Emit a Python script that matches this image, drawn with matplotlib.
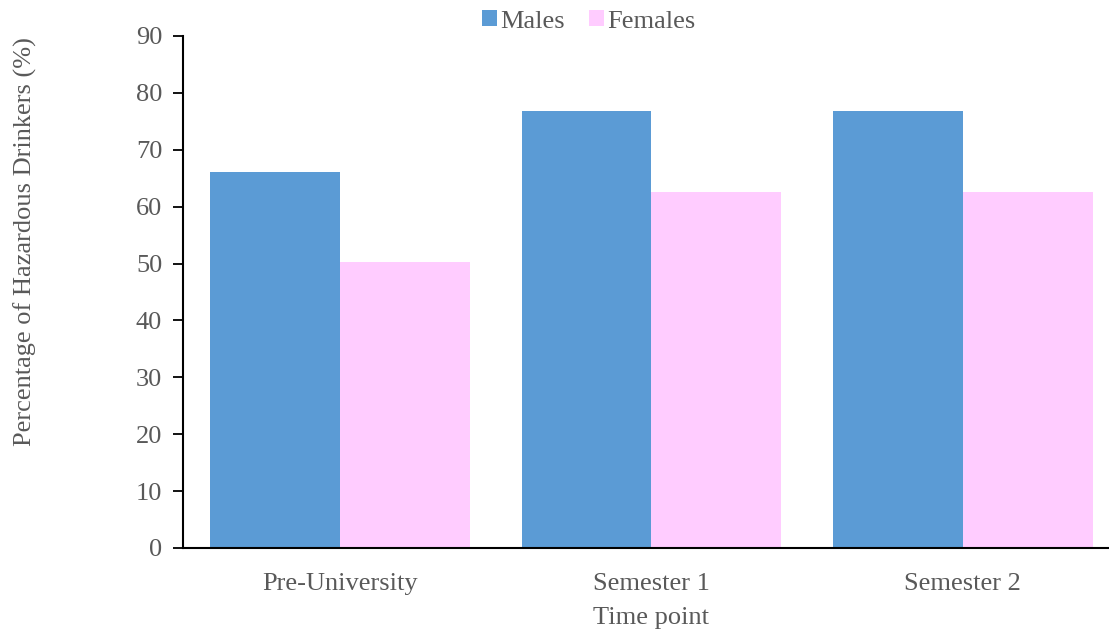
import matplotlib
matplotlib.use("Agg")
import matplotlib.pyplot as plt
import numpy as np

categories = ["Pre-University", "Semester 1", "Semester 2"]
males = [66.1, 76.8, 76.8]
females = [50.3, 62.5, 62.5]
series_names = ["Males", "Females"]
yticks = [0, 10, 20, 30, 40, 50, 60, 70, 80, 90]

plt.rcParams["font.family"] = ["Liberation Serif", "DejaVu Serif"]
text_color = "#595959"
male_color = "#5B9BD5"
female_color = "#FFCCFF"
fs = 19

W, H = 1109, 633
fig = plt.figure(figsize=(W / 100, H / 100), dpi=100)
ax = fig.add_axes([183 / W, (H - 548) / H, (1108 - 183) / W, (548 - 36) / H])

x = np.arange(len(categories))
bw = 0.417
ax.bar(x - bw / 2, males, width=bw, color=male_color, label=series_names[0])
ax.bar(x + bw / 2, females, width=bw, color=female_color, label=series_names[1])

ax.set_xlim(-0.504, 2.466)
ax.set_ylim(0, 90)
ax.set_yticks(yticks)
ax.set_yticklabels([str(t) for t in yticks], fontsize=fs, color=text_color)
ax.set_xticks(x)
ax.set_xticklabels(categories, fontsize=fs, color=text_color)
ax.tick_params(axis="x", length=0, pad=18)
ax.tick_params(axis="y", length=7, width=1.3, color="black", pad=8)

for s in ["top", "right"]:
    ax.spines[s].set_visible(False)
for s in ["left", "bottom"]:
    ax.spines[s].set_color("black")
    ax.spines[s].set_linewidth(1.5)

fig.text(651 / W, 1 - 618 / H, "Time point", ha="center", va="center",
         fontsize=fs, color=text_color)
fig.text(25 / W, 1 - 242 / H, "Percentage of Hazardous Drinkers (%)", ha="center",
         va="center", rotation=90, fontsize=fs, color=text_color)

leg = fig.legend(loc="center", bbox_to_anchor=(589 / W, 1 - 21.5 / H), ncol=2,
                 frameon=False, fontsize=fs, handlelength=0.55, handleheight=0.55,
                 handletextpad=0.15, columnspacing=0.9, borderaxespad=0)
for t in leg.get_texts():
    t.set_color(text_color)

fig.savefig("out.png", dpi=100)
